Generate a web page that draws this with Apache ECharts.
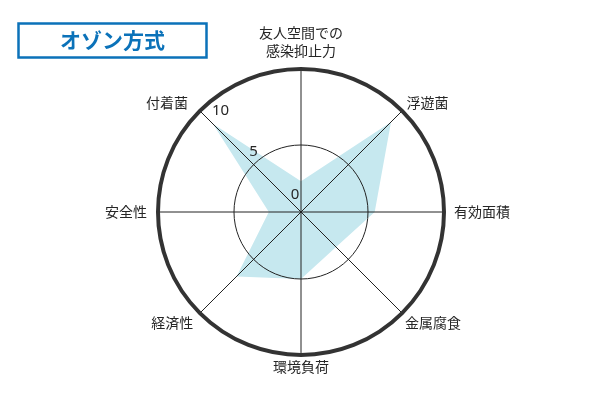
<!DOCTYPE html>
<html><head><meta charset="utf-8">
<script src="https://cdn.jsdelivr.net/npm/echarts@6/dist/echarts.min.js"></script>
<style>html,body{margin:0;padding:0;background:#fff}#c{width:600px;height:400px}</style>
</head><body><div id="c"></div>
<script>
const titleText = 'オゾン方式';
const categories = ['付着菌', '友人空間での\n感染抑止力', '浮遊菌', '有効面積', '金属腐食', '環境負荷', '経済性', '安全性'];
const values = [9.3, 2.3, 9.5, 5.5, 3.7, 5.0, 6.8, 2.4];
const radiusTicks = [0, 5, 10];
const radiusMax = 10.67;

const font = {fontSize: 14, lineHeight: 16, color: '#262626', fontFamily: 'Noto Sans CJK JP'};
const labelPad = [[0, 12, 0, 0], [0, 0, 0, 0], [0, 0, 1, 4.5], [0, 0, 0, 10], [3, 0, 0, 3], [8, 0, 0, 0], [3, 6.6, 0, 0], [0, 11, 0, 0]];
const angleRich = {
  m: Object.assign({}, font, {lineHeight: 18}),
  s: {fontSize: 1, lineHeight: 9}
};
labelPad.forEach((p, i) => { angleRich['l' + i] = Object.assign({}, font, {padding: p}); });
const tickFont = {fontSize: 15, color: '#262626', fontFamily: 'Noto Sans', lineHeight: 18};
const tickRich = {
  r0: Object.assign({}, tickFont, {padding: [0, 12, 34, 0]}),
  r5: Object.assign({}, tickFont, {padding: [0, 0, 25, 0]}),
  r10: Object.assign({}, tickFont, {padding: [0, 0, 12.6, 28.6]})
};

function angleLabel(v) {
  const name = categories[v];
  if (!name) return '';
  const lines = name.split('\n');
  if (lines.length > 1) return lines.map(l => '{m|' + l + '}').join('\n') + '\n{s|\u200b}';
  return '{l' + v + '|' + name + '}';
}

const chart = echarts.init(document.getElementById('c'), null, {renderer: 'canvas'});
const seriesData = values.map((v, i) => [v, i]).concat([[values[0], categories.length]]);
chart.setOption({
  animation: false,
  title: {
    text: titleText, left: 18, top: 23,
    padding: [5, 42],
    borderColor: '#0b72b9', borderWidth: 2.5,
    textStyle: {color: '#0b72b9', fontSize: 21, fontWeight: 'bold', lineHeight: 25, fontFamily: 'Noto Sans CJK JP'}
  },
  polar: {center: [301, 212], radius: 143},
  angleAxis: {
    type: 'value', min: 0, max: categories.length, interval: 1,
    startAngle: 135, clockwise: true, z: 5,
    axisLine: {show: true, lineStyle: {color: '#333', width: 4}},
    axisTick: {show: false},
    splitLine: {show: true, lineStyle: {color: '#222', width: 1}},
    axisLabel: {formatter: angleLabel, margin: 0, rich: angleRich, fontSize: 14, color: '#262626', fontFamily: 'Noto Sans CJK JP'}
  },
  radiusAxis: {
    type: 'value', min: 0, max: radiusMax, interval: 5, z: 5,
    axisLine: {show: false}, axisTick: {show: false},
    splitLine: {show: true, lineStyle: {color: ['rgba(0,0,0,0)', '#222', 'rgba(0,0,0,0)'], width: 1}},
    axisLabel: {
      formatter: v => radiusTicks.includes(v) ? '{r' + v + '|' + v + '}' : '',
      align: 'center', verticalAlign: 'middle', margin: 0, rich: tickRich,
      fontSize: 15, color: '#262626', fontFamily: 'Noto Sans'
    }
  },
  series: [{
    type: 'line', coordinateSystem: 'polar', data: seriesData,
    symbol: 'none', lineStyle: {width: 0}, areaStyle: {color: '#c6e8ef', opacity: 1}, z: 1
  }]
});
</script></body></html>
